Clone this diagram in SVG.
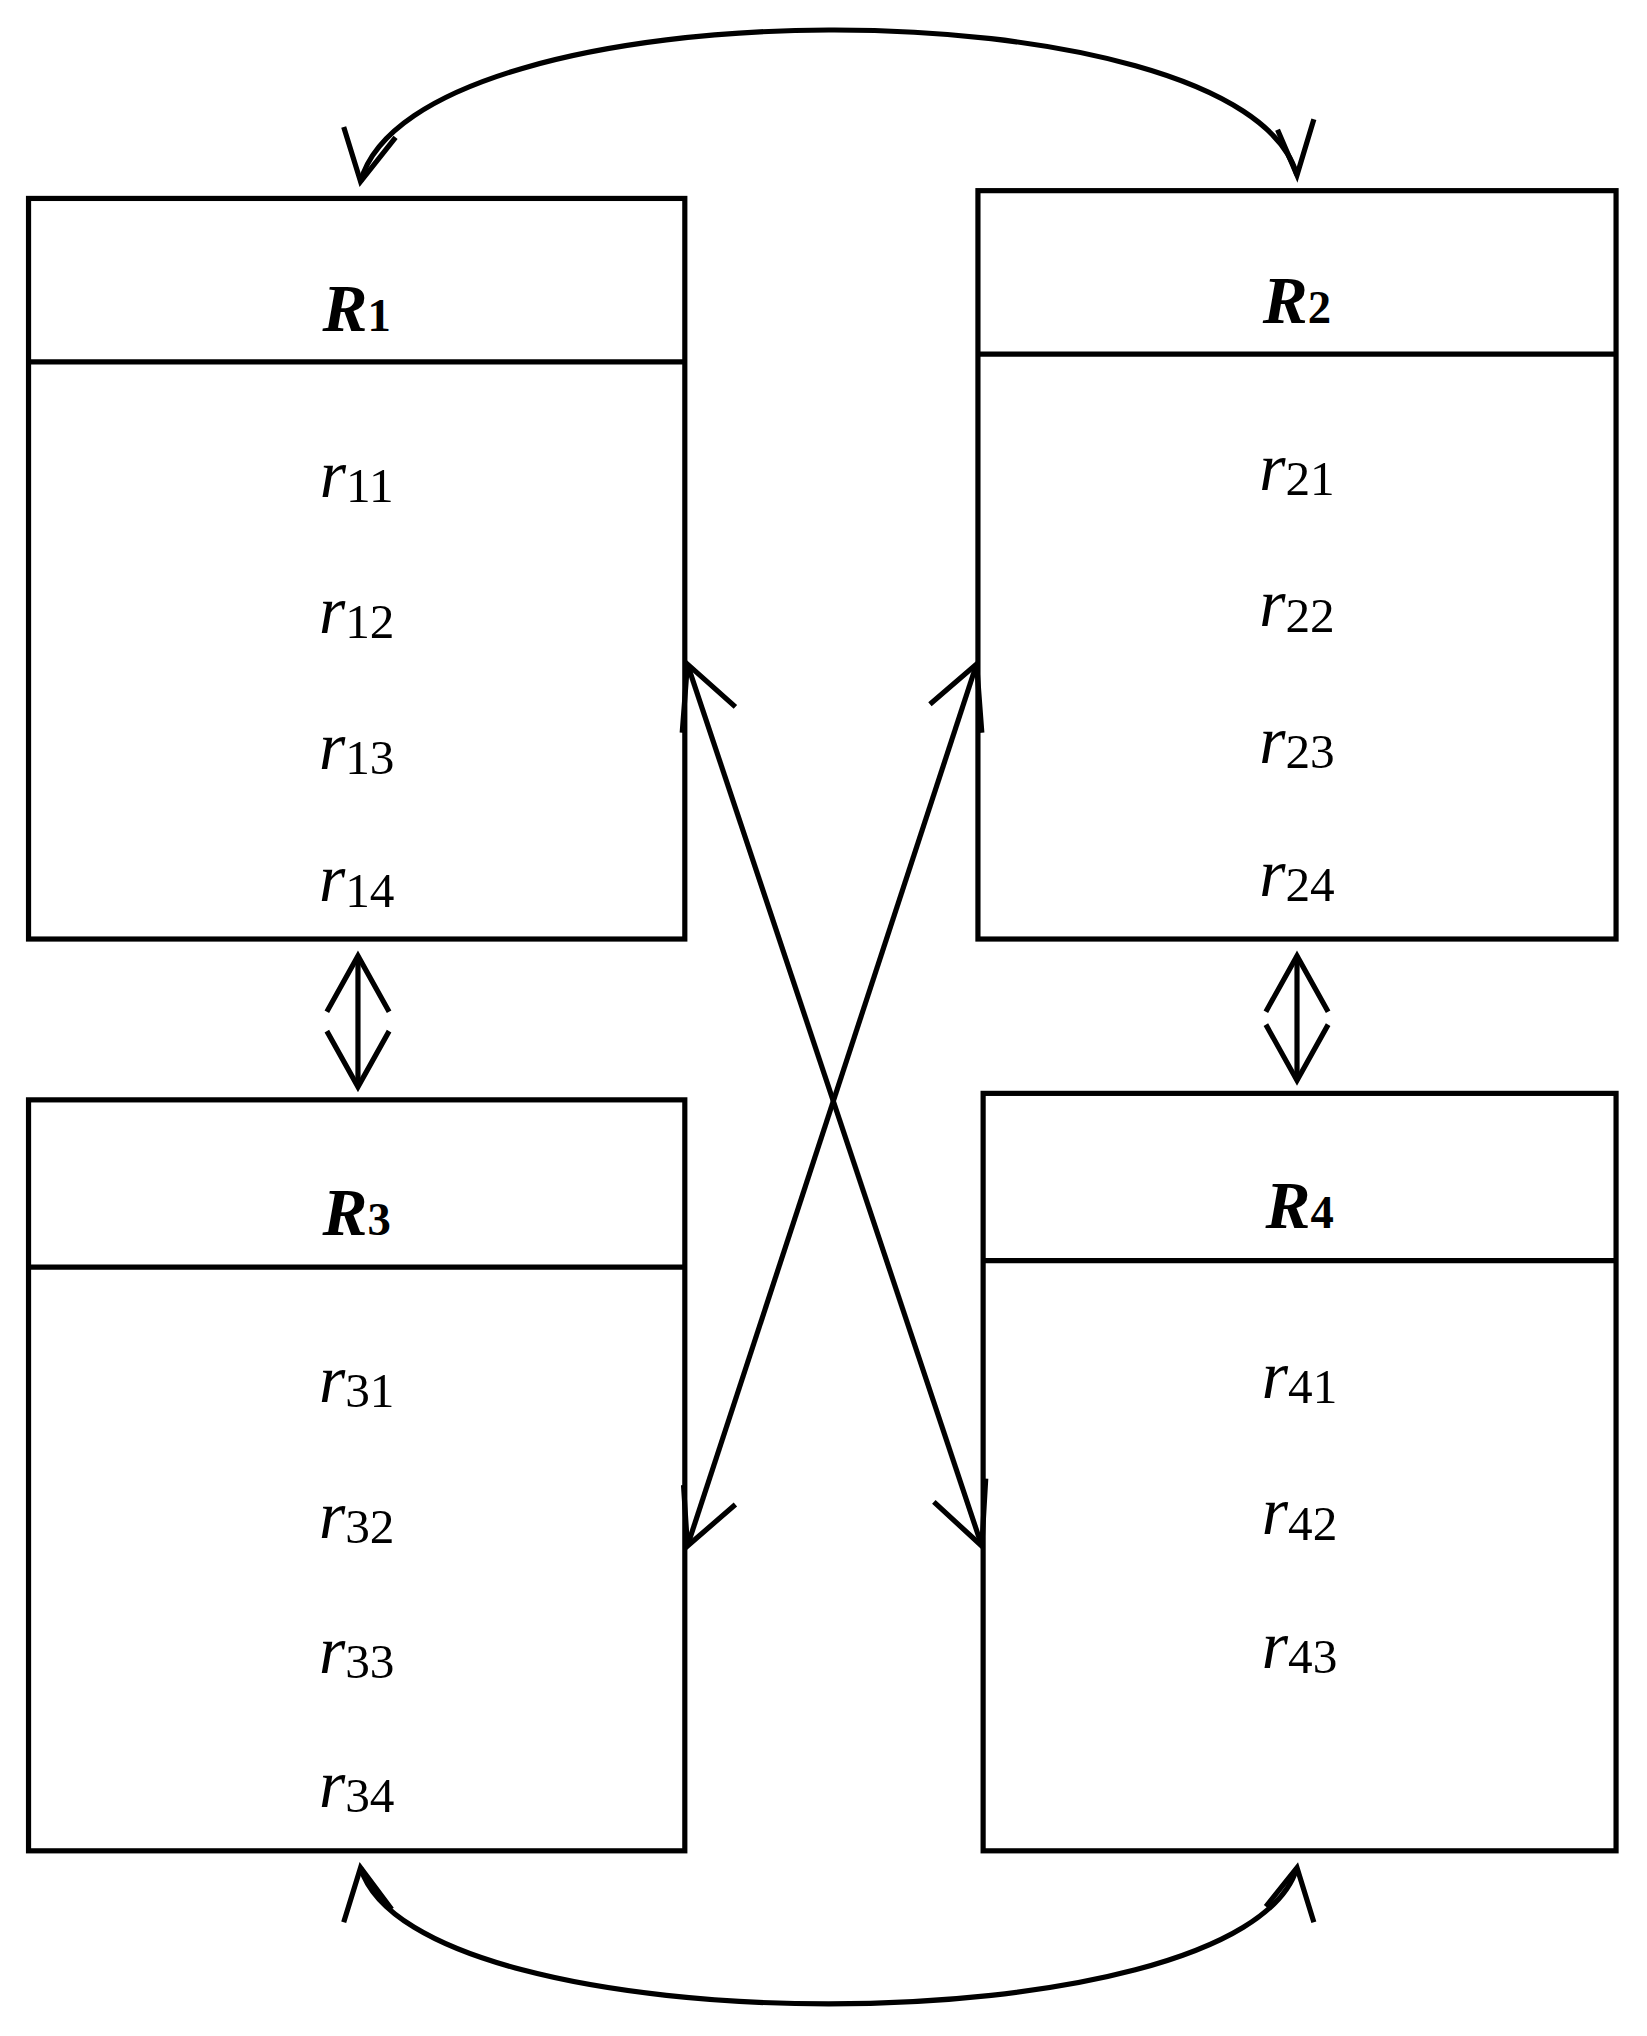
<svg xmlns="http://www.w3.org/2000/svg" width="1647" height="2036" viewBox="0 0 1647 2036">
<style>
.b{fill:#fff;stroke:#000;stroke-width:4}
.l{fill:none;stroke:#000;stroke-width:4}
.t{font-family:"Liberation Serif",serif;font-size:52px;font-weight:bold;font-style:italic;text-anchor:middle}
.t tspan{font-size:36px;font-style:normal}
.r{font-family:"Liberation Serif",serif;font-size:52px;font-style:italic;text-anchor:middle}
.r tspan{font-size:38px;font-style:normal}
</style>
<rect width="1647" height="2036" fill="#fff"/>
<g transform="scale(1.297)">
<g id="R1"><rect class="b" x="22" y="153" width="506" height="571"/><line class="l" x1="22" y1="279" x2="528" y2="279"/>
<text class="t" x="275" y="255">R<tspan>1</tspan></text>
<text class="r" x="275" y="383">r<tspan dy="4">11</tspan></text>
<text class="r" x="275" y="488">r<tspan dy="4">12</tspan></text>
<text class="r" x="275" y="593">r<tspan dy="4">13</tspan></text>
<text class="r" x="275" y="695">r<tspan dy="4">14</tspan></text></g>
<g id="R2"><rect class="b" x="754" y="147" width="492" height="577"/><line class="l" x1="754" y1="273" x2="1246" y2="273"/>
<text class="t" x="1000" y="249">R<tspan>2</tspan></text>
<text class="r" x="1000" y="378">r<tspan dy="4">21</tspan></text>
<text class="r" x="1000" y="483">r<tspan dy="4">22</tspan></text>
<text class="r" x="1000" y="588">r<tspan dy="4">23</tspan></text>
<text class="r" x="1000" y="691">r<tspan dy="4">24</tspan></text></g>
<g id="R3"><rect class="b" x="22" y="848" width="506" height="579"/><line class="l" x1="22" y1="977" x2="528" y2="977"/>
<text class="t" x="275" y="952">R<tspan>3</tspan></text>
<text class="r" x="275" y="1081">r<tspan dy="4">31</tspan></text>
<text class="r" x="275" y="1186">r<tspan dy="4">32</tspan></text>
<text class="r" x="275" y="1290">r<tspan dy="4">33</tspan></text>
<text class="r" x="275" y="1393">r<tspan dy="4">34</tspan></text></g>
<g id="R4"><rect class="b" x="758" y="843" width="488" height="584"/><line class="l" x1="758" y1="972" x2="1246" y2="972"/>
<text class="t" x="1002" y="947">R<tspan>4</tspan></text>
<text class="r" x="1002" y="1078">r<tspan dy="4">41</tspan></text>
<text class="r" x="1002" y="1183">r<tspan dy="4">42</tspan></text>
<text class="r" x="1002" y="1286">r<tspan dy="4">43</tspan></text></g>
<g id="connectors">
<path class="l" d="M278 140 C320 -15 958 -15 1000 135"/>
<polyline class="l" points="265,98 278,140 305,106"/>
<polyline class="l" points="985,100 1000,135 1013,92"/>
<path class="l" d="M278 1440 C320 1580 958 1580 1000 1440"/>
<polyline class="l" points="265,1482 278,1440 302,1472"/>
<polyline class="l" points="976,1470 1000,1440 1013,1482"/>
<line class="l" x1="276" y1="737" x2="276" y2="838"/>
<polyline class="l" points="252,780 276,737 300,780"/>
<polyline class="l" points="252,795 276,838 300,795"/>
<line class="l" x1="1000" y1="737" x2="1000" y2="833"/>
<polyline class="l" points="976,780 1000,737 1024,780"/>
<polyline class="l" points="976,790 1000,833 1024,790"/>
<line class="l" x1="530" y1="512" x2="757" y2="1192"/>
<polyline class="l" points="567,545 530,512 526,565"/>
<polyline class="l" points="720,1158 757,1192 760,1140"/>
<line class="l" x1="753" y1="512" x2="530" y2="1192"/>
<polyline class="l" points="717,543 753,512 757,565"/>
<polyline class="l" points="567,1160 530,1192 527,1145"/>
</g>
</g>
</svg>
